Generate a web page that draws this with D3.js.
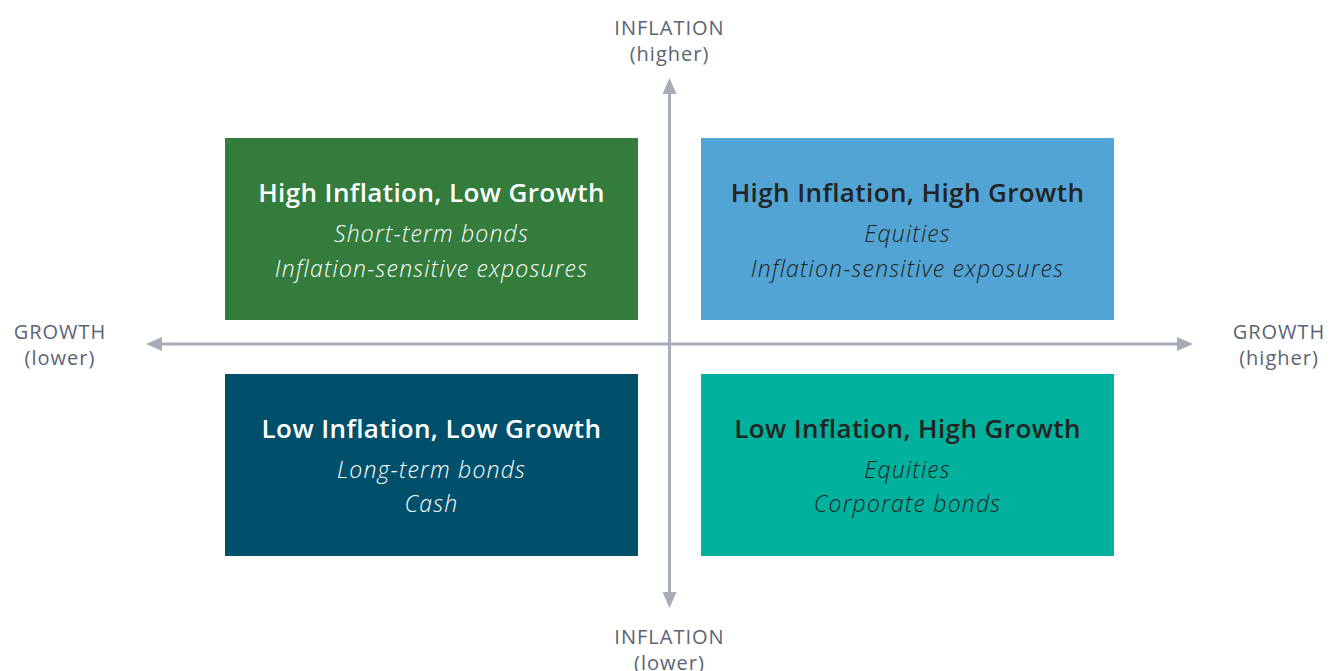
<!DOCTYPE html>
<html>
<head>
<meta charset="utf-8">
<script src="https://cdn.jsdelivr.net/npm/d3@7"></script>
<style>
  html, body { margin: 0; padding: 0; background: #ffffff; }
  svg { display: block; }
</style>
</head>
<body>
<svg id="chart" width="1330" height="671"></svg>
<script>
// ---- Data ----
const growthLevels = ["low", "high"];
const inflationLevels = ["high", "low"];
const quadrantTitles = [
  "High Inflation, Low Growth",
  "High Inflation, High Growth",
  "Low Inflation, Low Growth",
  "Low Inflation, High Growth"
];
const quadrantGrowth = ["low", "high", "low", "high"];
const quadrantInflation = ["high", "high", "low", "low"];
const quadrantAssets = [
  ["Short-term bonds", "Inflation-sensitive exposures"],
  ["Equities", "Inflation-sensitive exposures"],
  ["Long-term bonds", "Cash"],
  ["Equities", "Corporate bonds"]
];
const quadrantColors = ["#337c3c", "#51a4d4", "#00506b", "#00b19e"];
const quadrantTextColors = ["#ffffff", "#232323", "#ffffff", "#232323"];
const axisLabels = {
  top: ["INFLATION", "(higher)"],
  bottom: ["INFLATION", "(lower)"],
  left: ["GROWTH", "(lower)"],
  right: ["GROWTH", "(higher)"]
};

// ---- Layout ----
const svg = d3.select("#chart");
const axisColor = "#a8acb7";
const labelColor = "#5a6474";
const font = "'Open Sans', Lato, sans-serif";

const x = d3.scaleBand().domain(growthLevels).range([225, 1114]).paddingInner(0.1324).paddingOuter(0);
const y = d3.scaleBand().domain(inflationLevels).range([138, 556]).paddingInner(0.2288).paddingOuter(0);

const cx = 669.5, cy = 344;

// Axes lines
const axisG = svg.append("g");
axisG.append("line").attr("x1", cx).attr("x2", cx).attr("y1", 92).attr("y2", 594)
  .attr("stroke", axisColor).attr("stroke-width", 3);
axisG.append("line").attr("x1", 160).attr("x2", 1179).attr("y1", cy).attr("y2", cy)
  .attr("stroke", axisColor).attr("stroke-width", 3);

// Arrowheads
const ah = 16, aw = 7;
const heads = [
  [[cx, 78], [cx - aw, 78 + ah], [cx + aw, 78 + ah]],
  [[cx, 608], [cx - aw, 608 - ah], [cx + aw, 608 - ah]],
  [[146, cy], [146 + ah, cy - aw], [146 + ah, cy + aw]],
  [[1193, cy], [1193 - ah, cy - aw], [1193 - ah, cy + aw]]
];
axisG.selectAll("path.head").data(heads).join("path")
  .attr("class", "head")
  .attr("d", d => "M" + d.map(p => p.join(",")).join("L") + "Z")
  .attr("fill", axisColor);

// Quadrants
const quads = quadrantTitles.map((t, i) => ({
  title: t, g: quadrantGrowth[i], inf: quadrantInflation[i],
  assets: quadrantAssets[i], color: quadrantColors[i], text: quadrantTextColors[i]
}));

const qg = svg.selectAll("g.quad").data(quads).join("g").attr("class", "quad")
  .attr("transform", d => `translate(${x(d.g)},${y(d.inf)})`);

qg.append("rect")
  .attr("width", x.bandwidth()).attr("height", y.bandwidth())
  .attr("fill", d => d.color);

qg.append("text")
  .attr("x", x.bandwidth() / 2).attr("y", 64)
  .attr("text-anchor", "middle")
  .attr("font-family", font).attr("font-weight", 600).attr("font-size", 26)
  .attr("letter-spacing", 0.4)
  .attr("fill", d => d.text)
  .text(d => d.title);

qg.each(function(d) {
  d3.select(this).selectAll("text.asset").data(d.assets).join("text")
    .attr("class", "asset")
    .attr("x", x.bandwidth() / 2)
    .attr("y", (a, i) => 104 + i * 34.5)
    .attr("text-anchor", "middle")
    .attr("font-family", font).attr("font-style", "italic").attr("font-weight", 300).attr("font-size", 23)
    .attr("letter-spacing", 1.2)
    .attr("fill", d.text)
    .text(a => a);
});

// Axis labels
function label(lines, lx, ly) {
  const t = svg.append("text")
    .attr("text-anchor", "middle")
    .attr("font-family", font).attr("font-size", 20)
    .attr("letter-spacing", 1.0)
    .attr("fill", labelColor);
  lines.forEach((l, i) => {
    t.append("tspan").attr("x", lx).attr("y", ly + i * 26).text(l);
  });
}
label(axisLabels.top, cx, 35);
label(axisLabels.bottom, cx, 644);
label(axisLabels.left, 60, 339);
label(axisLabels.right, 1279, 339);
</script>
</body>
</html>
